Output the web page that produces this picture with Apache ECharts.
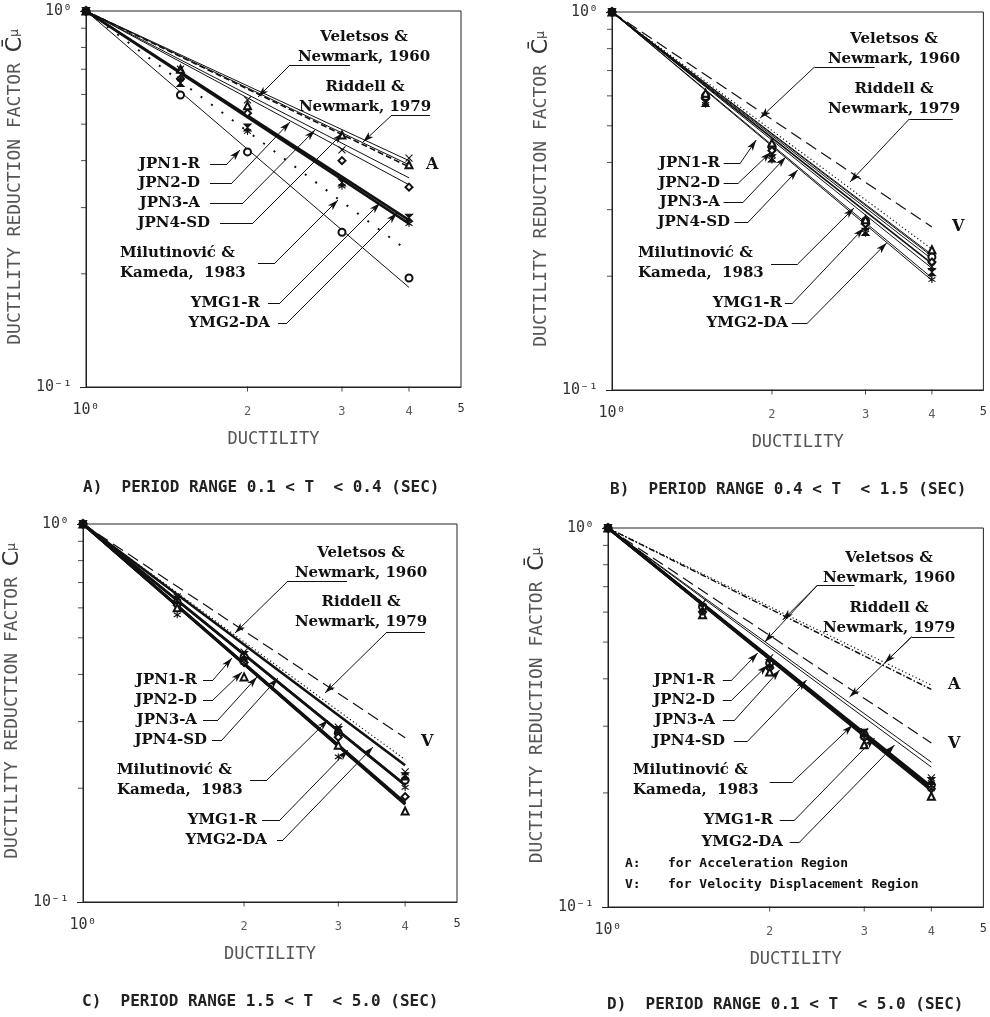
<!DOCTYPE html>
<html>
<head>
<meta charset="utf-8">
<script src="https://cdn.jsdelivr.net/npm/echarts@6/dist/echarts.min.js"></script>
<style>
html, body { margin: 0; padding: 0; background: #fff; }
#chart { width: 990px; height: 1017px; }
</style>
</head>
<body>
<div id="chart"></div>
<script>
// ductility values at which the reduction factors were plotted
const mu = [1, 1.5, 2, 3, 4];
const xTickVals = [2, 3, 4];
const yTickVals = [0.2, 0.3, 0.4, 0.5, 0.6, 0.7, 0.8, 0.9];

// fitted lines, value of C at mu = 4 (null = not drawn in that panel)
const lineNames = ['Veletsos & Newmark (A)', 'Riddell & Newmark (A)', 'Veletsos & Newmark (V)', 'Riddell & Newmark (V)',
  'JPN1-R', 'JPN2-D', 'JPN3-A', 'JPN4-SD', 'Milutinovic & Kameda', 'YMG1-R', 'YMG2-DA'];
const endA = [0.40, 0.385, null, null, 0.184, 0.345, 0.36, 0.39, 0.229, 0.278, 0.272];
const endB = [null, null, 0.236, 0.27, 0.228, 0.222, 0.216, 0.21, 0.226, 0.198, 0.195];
const endC = [null, null, 0.238, 0.272, 0.181, 0.183, 0.182, 0.23, 0.204, 0.182, 0.204];
const endD = [0.385, 0.375, 0.241, 0.271, 0.206, 0.208, 0.205, 0.206, 0.234, 0.204, 0.203];

// line style keys per panel
const styleA = ['thin', 'dashA', null, null, 'thin', 'thin', 'thin', 'thin', 'sparsedot', 'thick', 'thick'];
const styleB = [null, null, 'dot', 'dash', 'thin', 'thin', 'mid', 'thin', 'thin', 'thin', 'thin'];
const styleC = [null, null, 'dot', 'dash', 'thick', 'thick', 'thick', 'thick', 'thick', 'thick', 'thick'];
const styleD = ['dot', 'dashdot', 'thin', 'dash', 'thick', 'thick', 'thick', 'thick', 'thin', 'thick', 'thick'];

// data points (C at each mu) for the six record sets
const markNames = ['JPN1-R', 'JPN2-D', 'JPN3-A', 'JPN4-SD', 'YMG1-R', 'YMG2-DA'];
const markA = [
  [1, 0.598, 0.422, 0.258, 0.195],
  [1, 0.66, 0.535, 0.40, 0.34],
  [1, 0.70, 0.56, 0.468, 0.39],
  [1, 0.70, 0.58, 0.427, 0.406],
  [1, 0.644, 0.49, 0.35, 0.282],
  [1, 0.66, 0.478, 0.342, 0.272]
];
const markB = [
  [1, 0.60, 0.44, 0.28, 0.225],
  [1, 0.59, 0.43, 0.275, 0.218],
  [1, 0.61, 0.45, 0.282, 0.235],
  [1, 0.58, 0.42, 0.27, 0.212],
  [1, 0.575, 0.41, 0.262, 0.205],
  [1, 0.57, 0.406, 0.26, 0.196]
];
const markC = [
  [1, 0.62, 0.445, 0.28, 0.21],
  [1, 0.61, 0.43, 0.273, 0.19],
  [1, 0.60, 0.394, 0.26, 0.174],
  [1, 0.641, 0.458, 0.29, 0.221],
  [1, 0.63, 0.45, 0.285, 0.215],
  [1, 0.575, 0.43, 0.242, 0.201]
];
const markD = [
  [1, 0.62, 0.44, 0.285, 0.21],
  [1, 0.60, 0.427, 0.28, 0.205],
  [1, 0.59, 0.417, 0.268, 0.196],
  [1, 0.634, 0.454, 0.29, 0.219],
  [1, 0.616, 0.44, 0.288, 0.215],
  [1, 0.60, 0.43, 0.28, 0.205]
];

const captions = [
  'A)  PERIOD RANGE 0.1 < T  < 0.4 (SEC)',
  'B)  PERIOD RANGE 0.4 < T  < 1.5 (SEC)',
  'C)  PERIOD RANGE 1.5 < T  < 5.0 (SEC)',
  'D)  PERIOD RANGE 0.1 < T  < 5.0 (SEC)'
];

// ---- layout (pixels) ----
const G = [
  { left: 86, top: 11, width: 375, height: 376 },
  { left: 612, top: 12, width: 376, height: 378 },
  { left: 83, top: 524, width: 374, height: 378 },
  { left: 608, top: 528, width: 376, height: 379 }
];
const captionPos = [[83, 488], [610, 490], [82, 1002], [607, 1005]];

// label blocks and leader lines, offsets inside each plot box
const VN = 'Veletsos &\nNewmark, 1960';
const RN = 'Riddell &\nNewmark, 1979';
const MK = 'Milutinović &\nKameda,  1983';
const notesA = [
  { t: VN, a: 'center', x: 278, y: 26, h: [[264, 54], [204, 54]], tips: [[172, 86]] },
  { t: RN, a: 'center', x: 279, y: 76, h: [[344, 104], [306, 104]], tips: [[277, 131]] },
  { t: 'JPN1-R', a: 'right', x: 114, y: 153, h: [[124, 153], [141, 153]], tips: [[154, 139]] },
  { t: 'JPN2-D', a: 'right', x: 114, y: 172, h: [[124, 172], [146, 172]], tips: [[204, 111]] },
  { t: 'JPN3-A', a: 'right', x: 114, y: 192, h: [[124, 192], [157, 192]], tips: [[229, 119]] },
  { t: 'JPN4-SD', a: 'right', x: 124, y: 212, h: [[134, 212], [167, 212]], tips: [[257, 122]] },
  { t: MK, a: 'left', x: 34, y: 242, h: [[172, 252], [189, 252]], tips: [[252, 189]] },
  { t: 'YMG1-R', a: 'right', x: 174, y: 292, h: [[182, 292], [194, 292]], tips: [[294, 192]] },
  { t: 'YMG2-DA', a: 'right', x: 184, y: 312, h: [[192, 312], [201, 312]], tips: [[311, 202]] },
  { t: 'A', a: 'left', x: 340, y: 154 }
];
const notesB = [
  { t: VN, a: 'center', x: 282, y: 27, h: [[266, 55], [205, 55]], tips: [[150, 106]] },
  { t: RN, a: 'center', x: 282, y: 77, h: [[345, 107], [301, 107]], tips: [[241, 170]] },
  { t: 'JPN1-R', a: 'right', x: 108, y: 151, h: [[113, 151], [130, 151]], tips: [[146, 128]] },
  { t: 'JPN2-D', a: 'right', x: 108, y: 171, h: [[113, 171], [128, 171]], tips: [[161, 140]] },
  { t: 'JPN3-A', a: 'right', x: 108, y: 190, h: [[113, 190], [133, 190]], tips: [[176, 145]] },
  { t: 'JPN4-SD', a: 'right', x: 118, y: 210, h: [[124, 210], [138, 210]], tips: [[188, 158]] },
  { t: MK, a: 'left', x: 26, y: 241, h: [[161, 252], [188, 252]], tips: [[245, 196]] },
  { t: 'YMG1-R', a: 'right', x: 170, y: 291, h: [[175, 291], [183, 291]], tips: [[255, 216]] },
  { t: 'YMG2-DA', a: 'right', x: 176, y: 311, h: [[182, 311], [198, 311]], tips: [[278, 231]] },
  { t: 'V', a: 'left', x: 340, y: 215 }
];
const notesC = [
  { t: VN, a: 'center', x: 278, y: 29, h: [[264, 57], [205, 57]], tips: [[152, 109]] },
  { t: RN, a: 'center', x: 278, y: 78, h: [[342, 108], [304, 108]], tips: [[242, 169]] },
  { t: 'JPN1-R', a: 'right', x: 114, y: 156, h: [[120, 156], [130, 156]], tips: [[149, 134]] },
  { t: 'JPN2-D', a: 'right', x: 114, y: 176, h: [[120, 176], [130, 176]], tips: [[159, 148]] },
  { t: 'JPN3-A', a: 'right', x: 114, y: 196, h: [[120, 196], [135, 196]], tips: [[174, 153]] },
  { t: 'JPN4-SD', a: 'right', x: 124, y: 216, h: [[129, 216], [139, 216]], tips: [[195, 154]] },
  { t: MK, a: 'left', x: 34, y: 246, h: [[167, 256], [184, 256]], tips: [[245, 196]] },
  { t: 'YMG1-R', a: 'right', x: 174, y: 296, h: [[179, 296], [197, 296]], tips: [[265, 226]] },
  { t: 'YMG2-DA', a: 'right', x: 184, y: 316, h: [[194, 316], [200, 316]], tips: [[290, 223]] },
  { t: 'V', a: 'left', x: 338, y: 218 }
];
const notesD = [
  { t: VN, a: 'center', x: 281, y: 30, h: [[247, 57], [210, 57]], tips: [[175, 92], [157, 114]] },
  { t: RN, a: 'center', x: 281, y: 80, h: [[347, 109], [304, 109]], tips: [[277, 135], [242, 169]] },
  { t: 'JPN1-R', a: 'right', x: 107, y: 152, h: [[115, 152], [124, 152]], tips: [[150, 125]] },
  { t: 'JPN2-D', a: 'right', x: 107, y: 172, h: [[115, 172], [124, 172]], tips: [[160, 137]] },
  { t: 'JPN3-A', a: 'right', x: 107, y: 192, h: [[115, 192], [127, 192]], tips: [[172, 142]] },
  { t: 'JPN4-SD', a: 'right', x: 117, y: 213, h: [[126, 213], [140, 213]], tips: [[199, 152]] },
  { t: MK, a: 'left', x: 25, y: 242, h: [[162, 254], [185, 254]], tips: [[245, 197]] },
  { t: 'YMG1-R', a: 'right', x: 165, y: 292, h: [[172, 292], [187, 292]], tips: [[267, 210]] },
  { t: 'YMG2-DA', a: 'right', x: 175, y: 314, h: [[182, 314], [192, 314]], tips: [[287, 217]] },
  { t: 'A', a: 'left', x: 340, y: 157 },
  { t: 'V', a: 'left', x: 340, y: 216 }
];
const legendD = [
  ['A:', 'for Acceleration Region'],
  ['V:', 'for Velocity Displacement Region']
];

const lineStyles = {
  thin: { width: 1, type: 'solid' },
  mid: { width: 1.6, type: 'solid' },
  thick: { width: 2.6, type: 'solid' },
  dot: { width: 1.2, type: [1.2, 2.6] },
  sparsedot: { width: 2, type: [2, 11] },
  dash: { width: 1.2, type: [12, 6] },
  dashA: { width: 1.6, type: [6, 3] },
  dashdot: { width: 1.5, type: [6, 2, 1.5, 2] }
};
const markSymbols = [
  'emptyCircle', 'emptyDiamond', 'emptyTriangle',
  'path://M0,0L10,10M10,0L0,10',
  'path://M0,0L10,0L0,10L10,10Z',
  'path://M5,0L5,10M0,2L10,8M0,8L10,2'
];

const INK = '#111';
const AXIS_FONT = 'DejaVu Sans Mono';
const NOTE_FONT = 'DejaVu Serif';

function toVal(g, p) {
  return [Math.pow(5, p[0] / g.width), Math.pow(10, -p[1] / g.height)];
}

const grids = [], xAxes = [], yAxes = [], series = [], graphics = [];

function buildPanel(i, ends, styles, marks, notes) {
  const g = G[i];
  grids.push({ left: g.left, top: g.top, width: g.width, height: g.height,
    show: true, borderColor: '#222', borderWidth: 1 });
  xAxes.push({
    type: 'log', logBase: 10, min: 1, max: 5, gridIndex: i,
    axisLine: { lineStyle: { color: '#222', width: 1 } },
    axisTick: { show: false },
    splitLine: { show: false },
    axisLabel: {
      margin: 16, fontFamily: AXIS_FONT, color: '#333',
      formatter: v => Math.round(v) === 1 ? '{b|10⁰}' : '{s|' + Math.round(v) + '}',
      rich: { b: { fontSize: 15, fontFamily: AXIS_FONT, color: '#333' },
              s: { fontSize: 12, fontFamily: AXIS_FONT, color: '#333' } }
    },
    name: 'DUCTILITY', nameLocation: 'middle', nameGap: 44,
    nameTextStyle: { fontFamily: AXIS_FONT, fontSize: 17, color: '#555' }
  });
  yAxes.push({
    type: 'log', logBase: 10, min: 0.1, max: 1, gridIndex: i,
    axisLine: { lineStyle: { color: '#222', width: 1 } },
    axisTick: { show: true, length: 6, lineStyle: { color: '#222' } },
    splitLine: { show: false },
    axisLabel: {
      margin: 14, fontFamily: AXIS_FONT, fontSize: 15, color: '#333',
      formatter: v => v < 0.5 ? '10⁻¹' : '10⁰'
    },
    name: '{t|DUCTILITY REDUCTION FACTOR }{c|C̄}{m|μ}',
    nameLocation: 'middle', nameGap: 60, nameRotate: 90,
    nameTextStyle: {
      padding: [0, 0, 0, 24],
      rich: {
        t: { fontFamily: AXIS_FONT, fontSize: 18, color: '#555' },
        c: { fontFamily: 'DejaVu Sans', fontSize: 22, color: '#333' },
        m: { fontFamily: 'DejaVu Sans', fontSize: 12, color: '#333' }
      }
    }
  });

  // fitted lines from (1, 1) to (4, end)
  lineNames.forEach((name, k) => {
    if (ends[k] == null) return;
    const st = lineStyles[styles[k]];
    series.push({
      type: 'line', name: name, xAxisIndex: i, yAxisIndex: i,
      data: [[mu[0], 1], [mu[mu.length - 1], ends[k]]],
      symbol: 'none', silent: true, z: 3,
      lineStyle: { color: INK, width: st.width, type: st.type }
    });
  });

  // data points
  markNames.forEach((name, k) => {
    series.push({
      type: 'scatter', name: name, xAxisIndex: i, yAxisIndex: i,
      data: mu.map((m, j) => [m, marks[k][j]]),
      symbol: markSymbols[k], symbolSize: 7, silent: true, z: 4,
      itemStyle: { color: INK, borderColor: INK, borderWidth: 1.1, opacity: 1 }
    });
  });

  // minor ticks on y axis, ticks and labels 2..4 on x axis
  series.push({
    type: 'scatter', xAxisIndex: i, yAxisIndex: i, clip: false, silent: true,
    data: yTickVals.map(v => [1, v]), symbol: 'rect', symbolSize: [6, 1], symbolOffset: [-2, 0],
    itemStyle: { color: '#222' }
  });
  series.push({
    type: 'scatter', xAxisIndex: i, yAxisIndex: i, clip: false, silent: true,
    data: xTickVals.map(v => [v, 0.1]), symbol: 'rect', symbolSize: [1, 5], symbolOffset: [0, 2],
    itemStyle: { color: '#222' },
    label: { show: true, position: 'bottom', distance: 14, formatter: p => String(p.value[0]),
      fontFamily: AXIS_FONT, fontSize: 12, color: '#333' }
  });

  // leader lines
  const segs = [], arrows = [];
  notes.forEach(n => {
    if (!n.h) return;
    segs.push({ coords: [toVal(g, n.h[0]), toVal(g, n.h[1])] });
    n.tips.forEach(tp => arrows.push({ coords: [toVal(g, n.h[1]), toVal(g, tp)] }));
  });
  series.push({
    type: 'lines', coordinateSystem: 'cartesian2d', xAxisIndex: i, yAxisIndex: i,
    silent: true, z: 5, symbol: 'none', lineStyle: { color: INK, width: 1, opacity: 1 }, data: segs
  });
  series.push({
    type: 'lines', coordinateSystem: 'cartesian2d', xAxisIndex: i, yAxisIndex: i,
    silent: true, z: 5, symbol: ['none', 'arrow'], symbolSize: [1, [5, 11]],
    lineStyle: { color: INK, width: 1, opacity: 1 }, itemStyle: { color: INK }, data: arrows
  });

  // label texts
  notes.forEach(n => {
    const two = n.t.indexOf('\n') >= 0;
    const single = n.t.length === 1;
    graphics.push({
      type: 'text', x: g.left + n.x, y: g.top + n.y + (two ? 10 : 0), silent: true, z: 10,
      style: {
        text: n.t, textAlign: n.a, textVerticalAlign: 'middle', lineHeight: 20,
        fontFamily: NOTE_FONT, fontWeight: 'bold', fontSize: single ? 16 : 15, fill: INK
      }
    });
  });

  const cp = captionPos[i];
  graphics.push({
    type: 'text', x: cp[0], y: cp[1], silent: true,
    style: { text: captions[i], textAlign: 'left', textVerticalAlign: 'middle',
      fontFamily: AXIS_FONT, fontWeight: 'bold', fontSize: 16, fill: '#222' }
  });
}

buildPanel(0, endA, styleA, markA, notesA);
buildPanel(1, endB, styleB, markB, notesB);
buildPanel(2, endC, styleC, markC, notesC);
buildPanel(3, endD, styleD, markD, notesD);

// legend note in panel D
legendD.forEach((row, r) => {
  const g = G[3];
  graphics.push({ type: 'text', x: g.left + 17, y: g.top + 336 + r * 21, silent: true,
    style: { text: row[0], textAlign: 'left', textVerticalAlign: 'middle',
      fontFamily: AXIS_FONT, fontWeight: 'bold', fontSize: 13, fill: INK } });
  graphics.push({ type: 'text', x: g.left + 60, y: g.top + 336 + r * 21, silent: true,
    style: { text: row[1], textAlign: 'left', textVerticalAlign: 'middle',
      fontFamily: AXIS_FONT, fontWeight: 'bold', fontSize: 13, fill: INK } });
});

const chart = echarts.init(document.getElementById('chart'), null, { renderer: 'canvas' });
chart.setOption({
  backgroundColor: '#fff',
  animation: false,
  grid: grids,
  xAxis: xAxes,
  yAxis: yAxes,
  series: series,
  graphic: graphics
});
</script>
</body>
</html>
